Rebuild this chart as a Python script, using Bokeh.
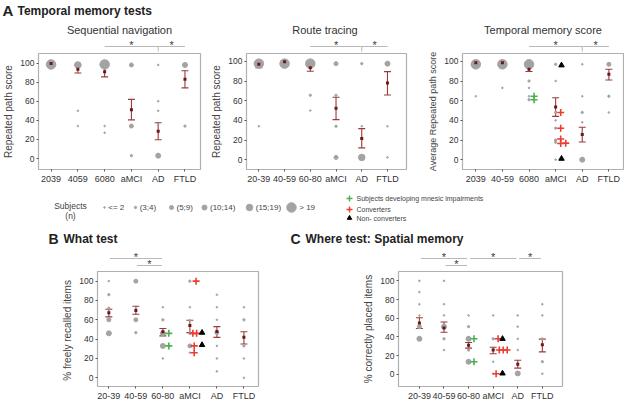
from bokeh.plotting import figure
from bokeh.layouts import column, row
from bokeh.models import Range1d, FixedTicker, Whisker, TeeHead, ColumnDataSource
from bokeh.embed import file_html
from bokeh.resources import INLINE
from bokeh.core.properties import value

FONT = "Liberation Sans"

# ---------------- data ----------------
size_labels = ["<= 2", "(3;4)", "(5;9)", "(10;14)", "(15;19)", "> 19"]

# A1 Sequential navigation
seq_labels = ["2039", "4059", "6080", "aMCI", "AD", "FTLD"]
seq_grp = [1, 2, 2, 2, 3, 3, 3, 4, 4, 4, 5, 5, 5, 5, 5, 6, 6]
seq_val = [98.5, 98, 50, 34, 98.5, 34, 27, 98, 34, 3, 98, 60, 50, 35, 3, 98, 34]
seq_n = [5, 4, 0, 0, 5, 0, 0, 2, 2, 1, 0, 0, 0, 0, 3, 3, 1]
seq_mean = [99.5, 93.5, 91, 51, 28.5, 83]
seq_hi = [100, 97.7, 96, 62, 37.5, 92]
seq_lo = [98.5, 89.5, 85.5, 40.5, 19.7, 74]
seq_cmp_from = [3, 5]
seq_cmp_to = [5, 6]

# A2 Route tracing
route_labels = ["20-39", "40-59", "60-80", "aMCI", "AD", "FTLD"]
route_grp = [1, 1, 2, 3, 3, 3, 4, 4, 4, 4, 5, 5, 5, 6, 6, 6]
route_val = [97.7, 34, 97.7, 97.7, 65.5, 50, 97.7, 65.5, 34, 2.3, 97.7, 34, 2.3, 97.7, 34, 2.3]
route_n = [5, 0, 5, 5, 1, 0, 2, 1, 1, 2, 1, 0, 4, 3, 0, 0]
route_mean = [97, 99.5, 93.5, 52.4, 21.5, 78]
route_hi = [100, 100, 96.7, 63.5, 31.6, 89.6]
route_lo = [93.5, 99, 90, 40.7, 12, 65.8]
route_cmp_from = [3, 5]
route_cmp_to = [5, 6]

# A3 Temporal memory score
tm_labels = ["2039", "40-59", "6080", "aMCI", "AD", "FTLD"]
tm_grp = [1, 1, 2, 2, 3, 3, 3, 3, 3, 4, 4, 4, 4, 4, 4, 4, 4, 5, 5, 5, 5, 5, 5, 6, 6, 6]
tm_val = [97, 64.5, 97, 73, 97, 80, 73, 64.5, 61, 97, 80, 48, 40, 32, 20, 17.7, 0,
          97, 64.5, 48, 38, 27, 0, 97, 64.5, 48]
tm_n = [5, 0, 5, 0, 5, 1, 0, 0, 1, 1, 0, 1, 0, 1, 1, 1, 0, 0, 0, 1, 0, 0, 3, 2, 1, 0]
tm_mean = [98.7, 98.7, 92, 53.5, 25.5, 86.8]
tm_hi = [100, 100, 95, 63, 33, 92]
tm_lo = [97, 97, 89.7, 44, 18, 81]
tm_green_grp = [3, 3]
tm_green_val = [64.5, 61]
tm_green_dx = [0.19, 0.19]
tm_red_grp = [4, 4, 4, 4, 4]
tm_red_val = [48, 32, 21, 16.5, 16.8]
tm_red_dx = [0.19, 0.19, 0.19, 0.19, 0.38]
tm_tri_grp = [4, 4]
tm_tri_val = [96, 1]
tm_tri_dx = [0.22, 0.22]
tm_cmp_from = [3, 5]
tm_cmp_to = [5, 6]

# B What test
what_labels = ["20-39", "40-59", "60-80", "aMCI", "AD", "FTLD"]
what_grp = [1, 1, 1, 1, 1, 2, 2, 2, 2, 3, 3, 3, 3, 3, 4, 4, 4, 4, 4, 4,
            5, 5, 5, 5, 5, 5, 5, 6, 6, 6, 6, 6]
what_val = [100, 86, 72, 60, 46, 100, 72, 60, 46.7, 73, 60, 46, 33, 20,
            100, 73, 59.5, 46, 33, 26, 86, 73, 60, 46.7, 33, 20, 6.6, 73, 60, 33, 20, 0]
what_n = [0, 1, 1, 2, 3, 2, 0, 2, 1, 0, 1, 3, 3, 0, 1, 0, 0, 1, 2, 0,
          0, 0, 0, 2, 0, 0, 0, 0, 1, 1, 0, 0]
what_mean = [67.4, 69.7, 47.7, 54, 48, 42]
what_hi = [71, 74, 51, 59.5, 53, 47.7]
what_lo = [63, 65.8, 43.4, 46.7, 41.8, 35]
what_green_grp = [3, 3]
what_green_val = [46, 33]
what_green_dx = [0.22, 0.22]
what_red_grp = [4, 4, 4, 4, 4]
what_red_val = [100, 46, 46, 33, 26]
what_red_dx = [0.23, 0.11, 0.25, 0.16, 0.16]
what_tri_grp = [4, 4]
what_tri_val = [46.7, 34]
what_tri_dx = [0.45, 0.45]
what_cmp_from = [1, 2]
what_cmp_to = [3, 3]
what_cmp_level = [1, 0]

# C Where test
where_labels = ["20-39", "40-59", "60-80", "aMCI", "AD", "FTLD"]
where_grp = [1, 1, 1, 1, 1, 1, 2, 2, 2, 2, 2, 2, 3, 3, 3, 3, 3, 4, 4, 4, 4,
             5, 5, 5, 5, 5, 6, 6, 6, 6, 6]
where_val = [100, 88, 75, 63, 51, 38, 100, 75, 63, 51, 38, 26, 63, 51, 38, 26, 13.5,
             63, 38, 13.5, 0.7, 63, 51, 38, 26, 1, 75, 63, 38, 13.5, 0.7]
where_n = [0, 0, 0, 0, 2, 3, 0, 0, 0, 3, 1, 0, 0, 1, 3, 1, 3, 0, 1, 0, 0,
           0, 0, 0, 0, 3, 0, 0, 1, 1, 0]
where_mean = [55, 49.5, 31, 26, 10.8, 31.6]
where_hi = [60.6, 56, 34, 29, 15, 37.7]
where_lo = [49, 45, 28, 22, 6.7, 24]
where_green_grp = [3, 3]
where_green_val = [38, 13.5]
where_green_dx = [0.22, 0.22]
where_red_grp = [4, 4, 4, 4, 4]
where_red_val = [38, 26, 26, 26, 0.7]
where_red_dx = [0.2, 0.25, 0.41, 0.57, 0.12]
where_tri_grp = [4, 4]
where_tri_val = [38, 1]
where_tri_dx = [0.38, 0.38]
where_cmp_from = [1, 2, 3, 5]
where_cmp_to = [3, 3, 5, 6]
where_cmp_level = [1, 0, 1, 1]

# ---------------- styles ----------------
SIZE_PX = [1.6, 2.3, 4.0, 5.0, 6.5, 9.5]
GRAY = "#a3a3a3"
ERR = "#9a3a3a"
MEAN = "#6a1818"
GREEN = "#4cb050"
RED = "#ee3b30"
BAR = "#b8b8b8"
TXT = "#333333"
STAR = "#3a3a3a"


def base_fig(w, h, xr, yr, **kw):
    p = figure(width=w, height=h, x_range=xr, y_range=yr, toolbar_location=None,
               output_backend="svg", **kw)
    p.grid.visible = False
    return p


def main_plot(labels, xr, yr, ylabel, w, h, lb, rb, grp, val, n, mean, hi, lo,
              extras=(), ylab_size="10px"):
    p = base_fig(w, h, Range1d(*xr), Range1d(*yr), min_border_left=lb, min_border_right=rb,
                 min_border_top=1, min_border_bottom=16)
    p.outline_line_color = "#b0b0b0"
    p.outline_line_width = 1.2
    xs = list(range(1, len(labels) + 1))
    p.xaxis.ticker = FixedTicker(ticks=xs)
    p.xaxis.major_label_overrides = {x: l for x, l in zip(xs, labels)}
    p.yaxis.ticker = FixedTicker(ticks=[0, 20, 40, 60, 80, 100])
    for ax in p.axis:
        ax.axis_line_color = None
        ax.major_tick_line_color = "#555555"
        ax.major_tick_out = 2
        ax.major_tick_in = 0
        ax.minor_tick_line_color = None
        ax.major_label_text_font = FONT
        ax.major_label_text_color = TXT
        ax.major_label_standoff = 2
    p.xaxis.major_label_text_font_size = "9px"
    p.yaxis.major_label_text_font_size = "8.5px"
    p.yaxis.axis_label = ylabel
    p.yaxis.axis_label_text_font = FONT
    p.yaxis.axis_label_text_font_size = ylab_size
    p.yaxis.axis_label_text_font_style = "normal"
    p.yaxis.axis_label_text_color = "#444444"
    p.yaxis.axis_label_standoff = 3

    pts = ColumnDataSource(dict(x=grp, y=val, s=[SIZE_PX[k] for k in n]))
    p.scatter("x", "y", size="s", source=pts, color=GRAY)

    for kind, g, v, dx in extras:
        xx = [a + d for a, d in zip(g, dx)]
        if kind == "green":
            p.scatter(xx, v, marker="cross", size=7, line_color=GREEN, line_width=1.6)
        elif kind == "red":
            p.scatter(xx, v, marker="cross", size=7, line_color=RED, line_width=1.6)
        else:
            p.scatter(xx, v, marker="triangle", size=5.5, color="black")

    ms = ColumnDataSource(dict(x=xs, m=mean, hi=hi, lo=lo))
    wk = Whisker(source=ms, base="x", upper="hi", lower="lo", line_color=ERR, line_width=1.1,
                 upper_head=TeeHead(size=7, line_color=ERR, line_width=1.1),
                 lower_head=TeeHead(size=7, line_color=ERR, line_width=1.1))
    p.add_layout(wk)
    p.scatter("x", "m", source=ms, marker="square", size=3, fill_color=MEAN, line_color=None)
    return p


def strip(main, w, h, lb, rb, cfrom, cto, levels, title=None, tick=False, inset=0.0):
    p = base_fig(w, h, main.x_range, Range1d(0, h), x_axis_location=None, y_axis_location=None,
                 min_border_left=lb, min_border_right=rb, min_border_top=0, min_border_bottom=0)
    p.outline_line_color = None
    if title:
        xr = main.x_range
        p.text(x=[(xr.start + xr.end) / 2], y=[h - 9], text=[title], text_font=value(FONT),
               text_font_size="11px", text_align="center", text_baseline="middle",
               text_color=TXT)
    ly = {0: 5, 1: 12} if not tick else {0: 6, 1: 6}
    x0 = [a + inset for a in cfrom]
    x1 = [b - inset for b in cto]
    yy = [ly[l] for l in levels]
    p.segment(x0=x0, y0=yy, x1=x1, y1=yy, line_color=BAR, line_width=1)
    if tick:
        shared = [b for b in cto if b in cfrom]
        p.segment(x0=shared, y0=[6] * len(shared), x1=shared, y1=[1] * len(shared),
                  line_color=BAR, line_width=1)
    sx = [(a + b) / 2 for a, b in zip(cfrom, cto)]
    sy = [y + 2 for y in yy]
    src = ColumnDataSource(dict(x=sx, y=sy, t=["*"] * len(sx)))
    p.text(x="x", y="y", text="t", source=src, text_font=value(FONT),
           text_font_size="11px", text_align="center", text_baseline="middle",
           text_color=STAR)
    return p


def heading(w, h, items):
    p = base_fig(w, h, Range1d(0, w), Range1d(h, 0), x_axis_location=None, y_axis_location=None,
                 min_border_left=0, min_border_right=0, min_border_top=0, min_border_bottom=0)
    p.outline_line_color = None
    for x, y, t, fs in items:
        p.text(x=[x], y=[y], text=[t], text_font=value(FONT), text_font_size=fs,
               text_font_style="bold", text_baseline="middle", text_color="#222222")
    return p


# ---------------- row A ----------------
A_STRIP_H = 32
A_MAIN_H = 134
a1 = main_plot(seq_labels, (0.53, 6.58), (-11.5, 110), "Repeated path score", 208, A_MAIN_H,
               36, 8, seq_grp, seq_val, seq_n, seq_mean, seq_hi, seq_lo)
a1s = strip(a1, 208, A_STRIP_H, 36, 8, seq_cmp_from, seq_cmp_to, [0, 0],
            title="Sequential navigation", tick=True)
a2 = main_plot(route_labels, (0.52, 6.74), (-10, 108), "Repeated path score", 208, A_MAIN_H,
               38, 10, route_grp, route_val, route_n, route_mean, route_hi, route_lo)
a2s = strip(a2, 208, A_STRIP_H, 38, 10, route_cmp_from, route_cmp_to, [0, 0],
            title="Route  tracing", tick=True)
a3 = main_plot(tm_labels, (0.5, 6.55), (-10, 108), "Average Repeated path score", 208, A_MAIN_H,
               46, 1, tm_grp, tm_val, tm_n, tm_mean, tm_hi, tm_lo,
               extras=[("green", tm_green_grp, tm_green_val, tm_green_dx),
                       ("red", tm_red_grp, tm_red_val, tm_red_dx),
                       ("tri", tm_tri_grp, tm_tri_val, tm_tri_dx)], ylab_size="9px")
a3s = strip(a3, 208, A_STRIP_H, 46, 1, tm_cmp_from, tm_cmp_to, [0, 0],
            title="Temporal memory score", tick=True)

headA = heading(624, 20, [(2, 10, "A", "15px"), (17, 10, "Temporal memory tests", "12px")])

# ---------------- legend ----------------
LEG_H = 40
leg = base_fig(624, LEG_H, Range1d(0, 624), Range1d(LEG_H, 0), x_axis_location=None,
               y_axis_location=None, min_border_left=0, min_border_right=0, min_border_top=0,
               min_border_bottom=0)
leg.outline_line_color = None
leg.text(x=[70, 70], y=[19, 29], text=["Subjects", "(n)"], text_font=value(FONT),
         text_font_size="8.5px", text_align="center", text_baseline="middle", text_color="#444444")
dot_x = [104, 135, 171, 204, 249, 291]
leg.scatter(x=dot_x, y=[21] * 6, size=SIZE_PX, color=GRAY)
leg.text(x=[x + 3 + s / 2 for x, s in zip(dot_x, SIZE_PX)], y=[21] * 6, text=size_labels,
         text_font=value(FONT), text_font_size="8px", text_baseline="middle",
         text_color="#444444")
leg.scatter(x=[349, 349], y=[12, 23], marker="cross", size=6, line_color=[GREEN, RED],
            line_width=1.4)
leg.scatter(x=[349], y=[31.5], marker="triangle", size=4.5, color="black")
leg.text(x=[356, 356, 356], y=[12, 23, 31.5],
         text=["Subjects developing mnesic impairments", "Converters", "Non- converters"],
         text_font=value(FONT), text_font_size="7px", text_baseline="middle",
         text_color="#444444")

# ---------------- row B / C ----------------
BC_STRIP_H = 22
BC_MAIN_H = 133
b = main_plot(what_labels, (0.58, 6.54), (-9, 110), "% freely  recalled items", 312, BC_MAIN_H,
              97, 54, what_grp, what_val, what_n, what_mean, what_hi, what_lo,
              extras=[("green", what_green_grp, what_green_val, what_green_dx),
                      ("red", what_red_grp, what_red_val, what_red_dx),
                      ("tri", what_tri_grp, what_tri_val, what_tri_dx)])
bs = strip(b, 312, BC_STRIP_H, 97, 54, what_cmp_from, what_cmp_to, what_cmp_level, inset=0.04)
c = main_plot(where_labels, (0.15, 6.82), (-13, 110), "% correctly placed items", 312, BC_MAIN_H,
              86, 62, where_grp, where_val, where_n, where_mean, where_hi, where_lo,
              extras=[("green", where_green_grp, where_green_val, where_green_dx),
                      ("red", where_red_grp, where_red_val, where_red_dx),
                      ("tri", where_tri_grp, where_tri_val, where_tri_dx)])
cs = strip(c, 312, BC_STRIP_H, 86, 62, where_cmp_from, where_cmp_to, where_cmp_level, inset=0.06)

headBC = heading(624, 22, [(48, 12, "B", "14px"), (63, 12, "What test", "12px"),
                           (290, 12, "C", "14px"), (305, 12, "Where test: Spatial memory", "12px")])

layout = column(
    headA,
    row(column(a1s, a1), column(a2s, a2), column(a3s, a3)),
    leg,
    headBC,
    row(column(bs, b), column(cs, c)),
)

open("out.html", "w").write(file_html(layout, INLINE))
